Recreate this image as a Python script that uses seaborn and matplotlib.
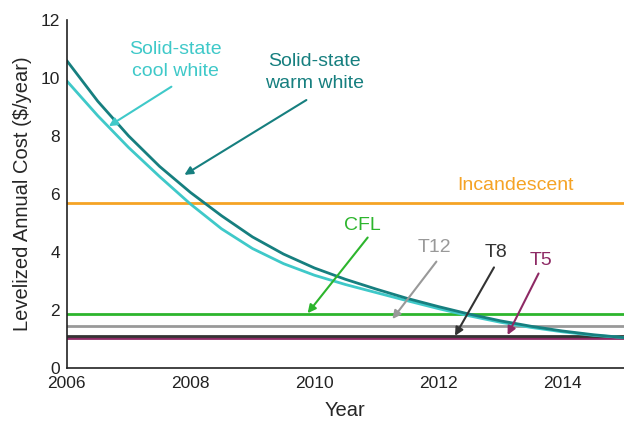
import numpy as np
import pandas as pd
import matplotlib
matplotlib.use("Agg")
import matplotlib.pyplot as plt
import seaborn as sns

# values (half-year steps)
years = [2006, 2006.5, 2007, 2007.5, 2008, 2008.5, 2009, 2009.5, 2010, 2010.5,
         2011, 2011.5, 2012, 2012.5, 2013, 2013.5, 2014, 2014.5, 2015]
warm_white = [10.6, 9.2, 8.0, 6.95, 6.05, 5.25, 4.52, 3.93, 3.45, 3.06,
              2.72, 2.4, 2.12, 1.86, 1.63, 1.44, 1.28, 1.15, 1.05]
cool_white = [9.9, 8.7, 7.6, 6.6, 5.65, 4.8, 4.12, 3.6, 3.2, 2.88,
              2.6, 2.32, 2.05, 1.8, 1.58, 1.4, 1.25, 1.13, 1.05]

flat_names = ["Incandescent", "CFL", "T12", "T8", "T5"]
flat_values = [5.7, 1.87, 1.46, 1.09, 1.03]

colors = {
    "Solid-state warm white": "#167f7f",
    "Solid-state cool white": "#3fc9c9",
    "Incandescent": "#f5a325",
    "CFL": "#2db52d",
    "T12": "#999999",
    "T8": "#333333",
    "T5": "#8e2a65",
}

rows = []
for y, w, c in zip(years, warm_white, cool_white):
    rows.append({"year": y, "cost": c, "tech": "Solid-state cool white"})
    rows.append({"year": y, "cost": w, "tech": "Solid-state warm white"})
for name, v in zip(flat_names, flat_values):
    for y in (years[0], years[-1]):
        rows.append({"year": y, "cost": v, "tech": name})
data = pd.DataFrame(rows)

sns.set_style("white")
plt.rcParams["font.family"] = ["Liberation Sans", "DejaVu Sans"]

fig = plt.figure(figsize=(6.24, 4.25), dpi=100)
ax = fig.add_axes([0.107, 0.134, 0.893, 0.819])

order = ["T5", "T8", "T12", "CFL", "Incandescent",
         "Solid-state cool white", "Solid-state warm white"]
sns.lineplot(data=data, x="year", y="cost", hue="tech", hue_order=order,
             palette=colors, linewidth=2, legend=False, ax=ax)

ax.set_xlim(2006, 2015)
ax.set_ylim(0, 12)
ax.set_xticks([2006, 2008, 2010, 2012, 2014])
ax.set_yticks([0, 2, 4, 6, 8, 10, 12])
ax.tick_params(direction="in", length=5, width=1, labelsize=12.5, colors="#222222")
ax.tick_params(axis="x", pad=6)
ax.tick_params(axis="y", pad=5)
sns.despine(ax=ax)
for s in ["left", "bottom"]:
    ax.spines[s].set_color("#222222")
    ax.spines[s].set_linewidth(1.2)

ax.set_xlabel("Year", fontsize=14.5, labelpad=7)
ax.set_ylabel("Levelized Annual Cost (\\$/year)", fontsize=14.5, labelpad=6)

# labels and arrows: (text, text pos, arrow start, arrow head)
notes = [
    ("Solid-state\ncool white", (2007.75, 10.6), (2007.69, 9.7), (2006.68, 8.34)),
    ("Solid-state\nwarm white", (2010.0, 10.2), (2009.87, 9.24), (2007.90, 6.66)),
    ("CFL", (2010.77, 4.93), (2010.86, 4.5), (2009.89, 1.89)),
    ("T12", (2011.94, 4.14), (2011.97, 3.67), (2011.26, 1.69)),
    ("T8", (2012.94, 3.97), (2012.90, 3.47), (2012.27, 1.11)),
    ("T5", (2013.66, 3.72), (2013.62, 3.26), (2013.12, 1.14)),
]
key = {"Solid-state\ncool white": "Solid-state cool white",
       "Solid-state\nwarm white": "Solid-state warm white"}
for label, tpos, start, head in notes:
    col = colors[key.get(label, label)]
    ax.text(tpos[0], tpos[1], label, color=col, fontsize=14,
            ha="center", va="center", linespacing=1.4)
    ax.annotate("", xy=head, xytext=start,
                arrowprops=dict(arrowstyle="-|>", color=col, lw=1.5,
                                mutation_scale=12, shrinkA=0, shrinkB=0))

ax.text(2013.24, 6.28, "Incandescent", color=colors["Incandescent"],
        fontsize=14, ha="center", va="center")

plt.savefig("out.png", dpi=100)
